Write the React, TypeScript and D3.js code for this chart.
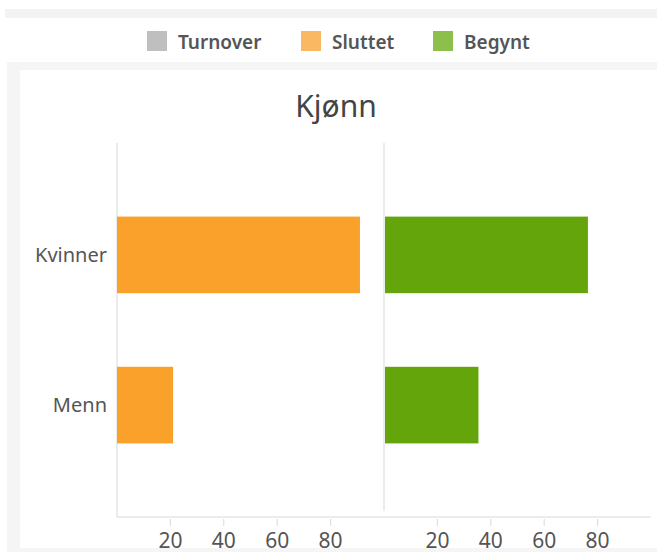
import { useRef, useEffect } from 'react';
import * as d3 from 'd3';

const WIDTH = 657;
const HEIGHT = 552;
const MARGIN = { top: 143, right: 6, bottom: 35, left: 117 };

const categories = ['Kvinner', 'Menn'];
const sluttet = [91, 21];
const begynt = [76, 35];
const ticks = [20, 40, 60, 80];

const legendItems = ['Turnover', 'Sluttet', 'Begynt'];
const legendColors = ['#bfbfbf', '#fbb862', '#8cbf4c'];
const legendX = [147, 301, 433];

const FONT = "'Segoe UI', 'Noto Sans', sans-serif";

const App = () => {
  const svgRef = useRef(null);

  useEffect(() => {
    const svg = d3.select(svgRef.current);
    svg.selectAll('*').remove();

    const boundsWidth = WIDTH - MARGIN.left - MARGIN.right;
    const boundsHeight = HEIGHT - MARGIN.top - MARGIN.bottom;
    const panelWidth = boundsWidth / 2;

    // page frame
    svg.append('rect').attr('x', 5).attr('y', 9).attr('width', 652).attr('height', 9).attr('fill', '#f3f3f3');
    svg.append('rect').attr('x', 7).attr('y', 62).attr('width', 650).attr('height', 490).attr('fill', '#f5f5f5');
    svg.append('rect').attr('x', 20).attr('y', 70).attr('width', 637).attr('height', 478).attr('fill', '#ffffff');

    // legend
    const legend = svg.append('g');
    legendItems.forEach((name, i) => {
      legend.append('rect')
        .attr('x', legendX[i]).attr('y', 31)
        .attr('width', 20).attr('height', 20)
        .attr('fill', legendColors[i]);
      legend.append('text')
        .attr('x', legendX[i] + 31).attr('y', 49)
        .attr('font-family', FONT).attr('font-size', 19).attr('font-weight', 600)
        .attr('fill', '#555')
        .text(name);
    });

    // title
    svg.append('text')
      .attr('x', 336).attr('y', 117)
      .attr('text-anchor', 'middle')
      .attr('font-family', FONT).attr('font-size', 30)
      .attr('fill', '#444')
      .text('Kjønn');

    const g = svg.append('g').attr('transform', `translate(${MARGIN.left},${MARGIN.top})`);

    const yScale = d3.scaleBand().domain(categories).range([0, boundsHeight]).padding(0.49);
    const xLeft = d3.scaleLinear().domain([0, 100]).range([0, panelWidth]);
    const xRight = d3.scaleLinear().domain([0, 100]).range([panelWidth, boundsWidth]);

    // axis lines
    g.append('line').attr('x1', 0).attr('x2', 0).attr('y1', 0).attr('y2', boundsHeight).attr('stroke', '#d9d9d9');
    g.append('line').attr('x1', panelWidth).attr('x2', panelWidth).attr('y1', 0).attr('y2', boundsHeight - 6).attr('stroke', '#d9d9d9');
    g.append('line').attr('x1', 0).attr('x2', boundsWidth).attr('y1', boundsHeight).attr('y2', boundsHeight).attr('stroke', '#d9d9d9');

    // bars
    g.selectAll('.sl').data(sluttet).join('rect')
      .attr('x', xLeft(0))
      .attr('y', (_, i) => yScale(categories[i]))
      .attr('width', (d) => xLeft(d) - xLeft(0))
      .attr('height', yScale.bandwidth())
      .attr('fill', '#f9a12b');
    g.selectAll('.be').data(begynt).join('rect')
      .attr('x', xRight(0) + 1)
      .attr('y', (_, i) => yScale(categories[i]))
      .attr('width', (d) => xRight(d) - xRight(0))
      .attr('height', yScale.bandwidth())
      .attr('fill', '#65a50c');

    // category labels
    categories.forEach((c) => {
      g.append('text')
        .attr('x', -10)
        .attr('y', yScale(c) + yScale.bandwidth() / 2)
        .attr('dy', '0.35em')
        .attr('text-anchor', 'end')
        .attr('font-family', FONT).attr('font-size', 20)
        .attr('fill', '#555')
        .text(c);
    });

    // x ticks
    [xLeft, xRight].forEach((scale) => {
      ticks.forEach((t) => {
        g.append('line')
          .attr('x1', scale(t)).attr('x2', scale(t))
          .attr('y1', boundsHeight + 2).attr('y2', boundsHeight + 9)
          .attr('stroke', '#d9d9d9');
        g.append('text')
          .attr('x', scale(t)).attr('y', boundsHeight + 31)
          .attr('text-anchor', 'middle')
          .attr('font-family', FONT).attr('font-size', 21)
          .attr('fill', '#555')
          .text(t);
      });
    });
  }, []);

  return (
    <svg
      ref={svgRef}
      width={WIDTH}
      height={HEIGHT}
      style={{ position: 'absolute', left: 0, top: 0, background: '#fff' }}
    />
  );
};

export default App;
